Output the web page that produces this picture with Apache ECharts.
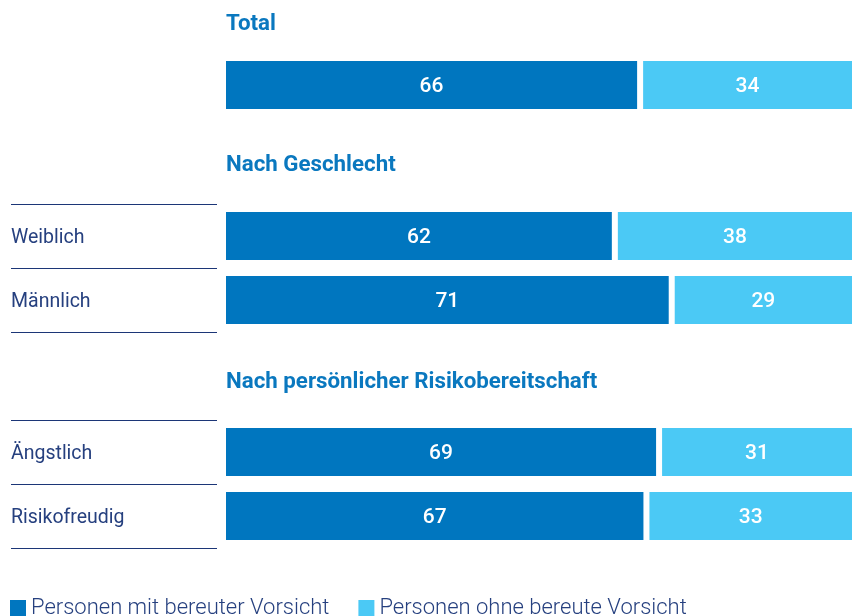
<!DOCTYPE html>
<html>
<head>
<meta charset="utf-8">
<script src="https://cdn.jsdelivr.net/npm/echarts@6/dist/echarts.min.js"></script>
<style>
  html, body { margin: 0; padding: 0; background: #fff; }
  #chart { width: 857px; height: 616px; }
</style>
</head>
<body>
<div id="chart"></div>
<script>
(function (window, document) {
    'use strict';
    var chartDom = document.getElementById('chart');
    var myChart = echarts.init(chartDom);

    var headers = ['Total', 'Nach Geschlecht', 'Nach persönlicher Risikobereitschaft'];
    var totalCats = ['Total'];
    var genderCats = ['Weiblich', 'Männlich'];
    var riskCats = ['Ängstlich', 'Risikofreudig'];
    var seriesNames = ['Personen mit bereuter Vorsicht', 'Personen ohne bereute Vorsicht'];
    var mitValues = [[66], [62, 71], [69, 67]];
    var ohneValues = [[34], [38, 29], [31, 33]];

    var style = {
        mit: '#0076bf',
        ohne: '#4bc9f5',
        header: '#0a78bf',
        text: '#26407f',
        line: '#1c3677'
    };
    var font = 'Roboto, "Liberation Sans", sans-serif';

    // one grid per block, bars are 0..100 stacked
    var blocks = [
        { cats: totalCats, top: 53, height: 64, titleTop: 13 },
        { cats: genderCats, top: 204, height: 128, titleTop: 154 },
        { cats: riskCats, top: 420, height: 128, titleTop: 371 }
    ];

    var grid = [], xAxis = [], yAxis = [], series = [], title = [];
    blocks.forEach(function (b, i) {
        title.push({
            text: headers[i],
            left: 226,
            top: b.titleTop,
            padding: 0,
            textStyle: { fontFamily: font, fontSize: 22.3, fontWeight: 'bold', color: style.header }
        });
        grid.push({ left: 223, right: 2, top: b.top, height: b.height });
        xAxis.push({ gridIndex: i, type: 'value', min: 0, max: 100, show: false });
        yAxis.push({
            gridIndex: i,
            type: 'category',
            inverse: true,
            data: b.cats,
            show: i > 0,
            axisLine: { show: false },
            axisTick: { show: false },
            axisLabel: {
                align: 'left',
                margin: 212,
                formatter: '{l|{value}}',
                rich: {
                    l: {
                        padding: [5, 0, 0, 0],
                        color: style.text,
                        fontFamily: font,
                        fontSize: 19.5
                    }
                }
            }
        });
        [mitValues[i], ohneValues[i]].forEach(function (vals, k) {
            series.push({
                name: seriesNames[k],
                type: 'bar',
                stack: 'b' + i,
                xAxisIndex: i,
                yAxisIndex: i,
                barWidth: 54,
                data: vals,
                itemStyle: { color: k === 0 ? style.mit : style.ohne, borderColor: '#fff', borderWidth: 3 },
                label: {
                    show: true,
                    position: 'inside',
                    offset: [0, 2],
                    color: '#fff',
                    fontFamily: font,
                    fontSize: 21,
                    fontWeight: 500
                },
                emphasis: { disabled: true }
            });
        });
    });

    // rule lines left of the bars: a label-only grid whose split lines mark row borders
    [1, 2].forEach(function (i) {
        var b = blocks[i];
        var idx = grid.length;
        grid.push({ left: 11, width: 206, top: b.top, height: b.height });
        xAxis.push({ gridIndex: idx, type: 'value', min: 0, max: 1, show: false });
        yAxis.push({
            gridIndex: idx,
            type: 'category',
            inverse: true,
            data: b.cats,
            axisLine: { show: false },
            axisTick: { show: false },
            axisLabel: { show: false },
            splitLine: { show: true, lineStyle: { color: style.line, width: 1 } }
        });
    });

    var option = {
        animation: false,
        title: title,
        legend: {
            data: seriesNames,
            left: 10,
            top: 597,
            padding: 0,
            itemWidth: 16,
            itemHeight: 16,
            itemGap: 29,
            icon: 'rect',
            selectedMode: false,
            itemStyle: { borderWidth: 0 },
            textStyle: { fontFamily: font, fontSize: 22, fontWeight: 300, color: style.text }
        },
        grid: grid,
        xAxis: xAxis,
        yAxis: yAxis,
        series: series
    };

    myChart.setOption(option);
})(window, document);
</script>
</body>
</html>
